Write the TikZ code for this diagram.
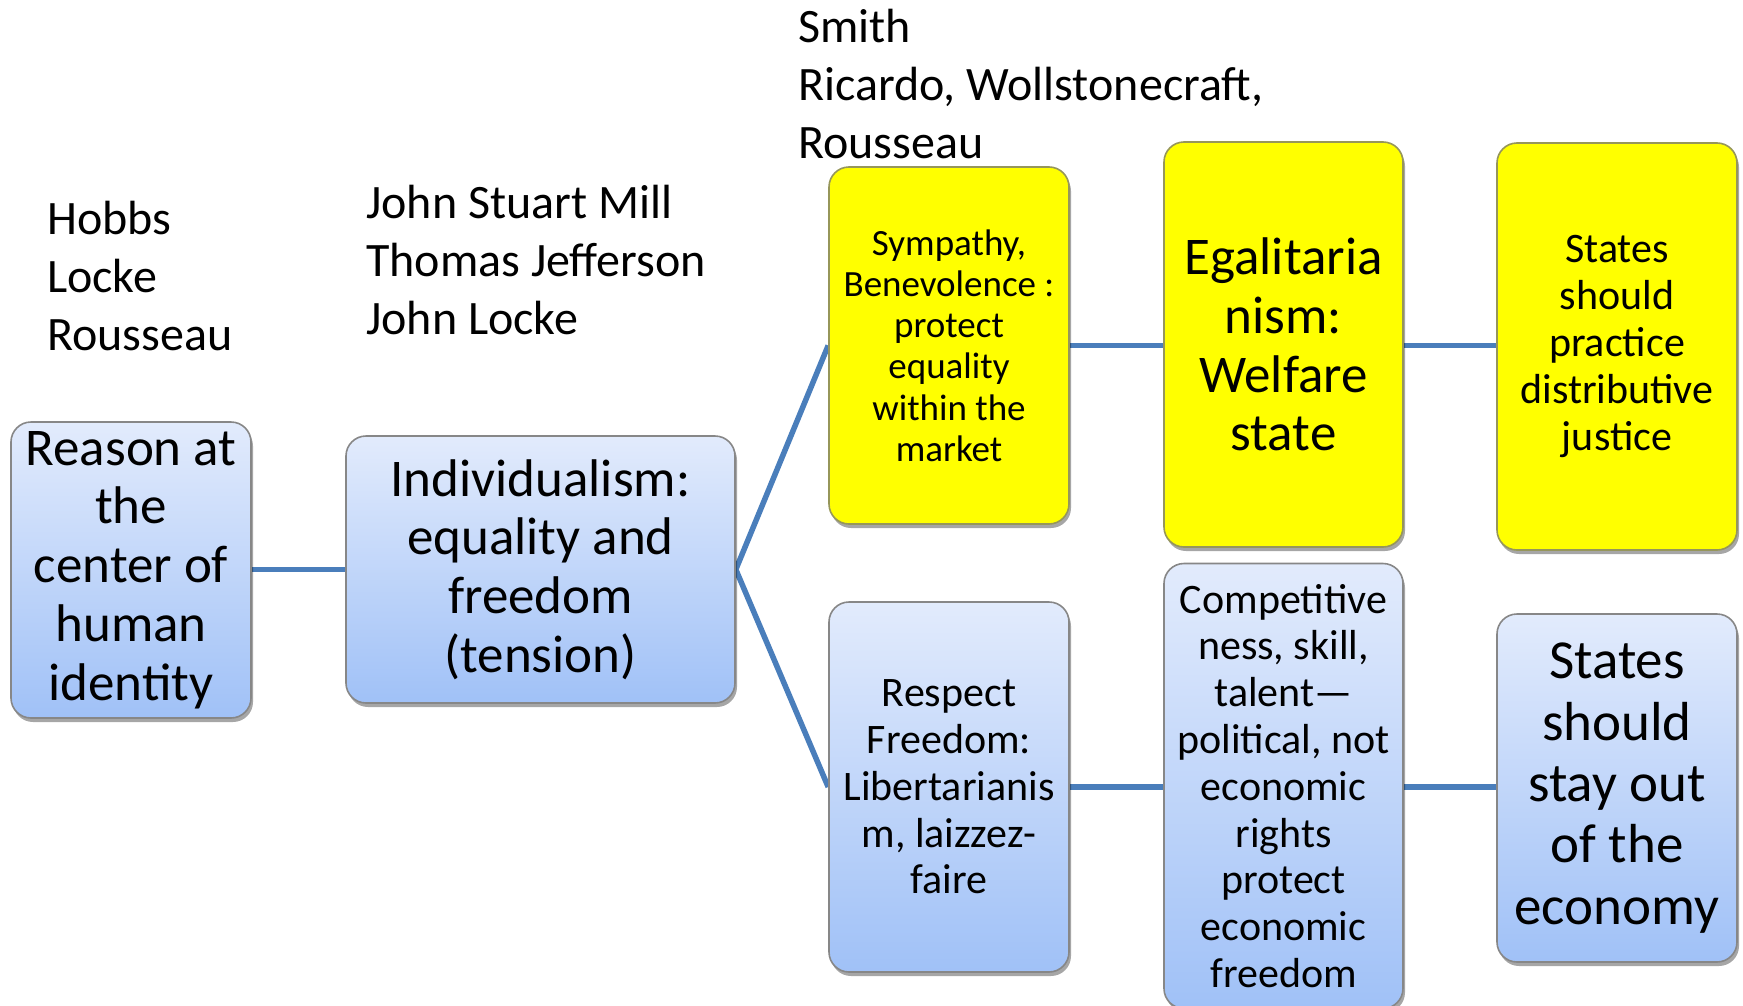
\documentclass[tikz,border=0pt]{standalone}
\usepackage{fontspec}
\setmainfont{Carlito}
\usetikzlibrary{shadows,backgrounds}
\definecolor{boxtop}{RGB}{226,235,252}
\definecolor{boxbot}{RGB}{160,193,247}
\definecolor{edgegray}{RGB}{135,135,135}
\definecolor{yelgray}{RGB}{150,150,90}
\definecolor{connblue}{RGB}{74,126,187}
\definecolor{yel}{RGB}{255,255,0}
\tikzset{
  basebox/.style={draw=edgegray, line width=1.6bp, rounded corners=20bp, align=center,
    inner sep=0pt, text=black,
    drop shadow={shadow xshift=2bp, shadow yshift=-4bp, opacity=0.35, fill=black}},
  bluebox/.style={basebox, top color=boxtop, bottom color=boxbot},
  yellowbox/.style={basebox, draw=yelgray, fill=yel},
  conn/.style={draw=connblue, line width=5.5bp},
  names/.style={anchor=north west, inner sep=0pt, align=left,
    font=\fontsize{48bp}{58bp}\selectfont},
  fbig/.style={font=\fontsize{53bp}{58.8bp}\selectfont},
  fmid/.style={font=\fontsize{42bp}{46.8bp}\selectfont},
  fsmall/.style={font=\fontsize{37bp}{41.2bp}\selectfont},
  flarge/.style={font=\fontsize{55bp}{61.4bp}\selectfont},
}
\begin{document}
\begin{tikzpicture}[x=1bp,y=-1bp]
\useasboundingbox (0,0) rectangle (1743,1005);
\clip (0,0) rectangle (1743,1005);

\node[names] (hob) at (47,194) {\strut Hobbs\\Locke\\Rousseau};
\node[names] (jsm) at (366,178) {\strut John Stuart Mill\\Thomas Jefferson\\John Locke};
\node[names] (smi) at (798,2) {\strut Smith\\Ricardo, Wollstonecraft,\\Rousseau};

\node[bluebox, fbig, minimum width=240bp, minimum height=296bp] (reason) at (131,570)
  {Reason at\\the\\center of\\human\\identity};
\node[bluebox, fbig, minimum width=389bp, minimum height=267bp] (indiv) at (540.5,569.5)
  {Individualism:\\equality and\\freedom\\(tension)};
\node[yellowbox, fsmall, minimum width=240bp, minimum height=357bp] (symp) at (949,345.5)
  {Sympathy,\\Benevolence :\\protect\\equality\\within the\\market};
\node[yellowbox, fbig, minimum width=239bp, minimum height=405bp] (egal) at (1283.5,344.5)
  {Egalitaria\\nism:\\Welfare\\state};
\node[yellowbox, fmid, minimum width=240bp, minimum height=407bp] (dist) at (1617,346.5)
  {States\\should\\practice\\distributive\\justice};
\node[bluebox, fmid, minimum width=240bp, minimum height=370bp] (resp) at (949,787)
  {Respect\\Freedom:\\Libertarianis\\m, laizzez-\\faire};
\node[bluebox, fmid, minimum width=239bp, minimum height=445bp] (comp) at (1283.5,786)
  {Competitive\\ness, skill,\\talent---\\political, not\\economic\\rights\\protect\\economic\\freedom};
\node[bluebox, flarge, minimum width=240bp, minimum height=348bp] (stay) at (1617,788)
  {States\\should\\stay out\\of the\\economy};

\begin{scope}[on background layer]
\fill[white] (0,0) rectangle (1743,1005);
\draw[conn] (indiv.west) -- (indiv.west -| reason.east);
\draw[conn] (indiv.east) -- (symp.west);
\draw[conn] (indiv.east) -- (resp.west);
\draw[conn] (symp.east) -- (symp.east -| egal.west);
\draw[conn] (symp.east -| egal.east) -- (symp.east -| dist.west);
\draw[conn] (resp.east) -- (resp.east -| comp.west);
\draw[conn] (comp.east |- resp.east) -- (resp.east -| stay.west);
\end{scope}
\end{tikzpicture}
\end{document}
